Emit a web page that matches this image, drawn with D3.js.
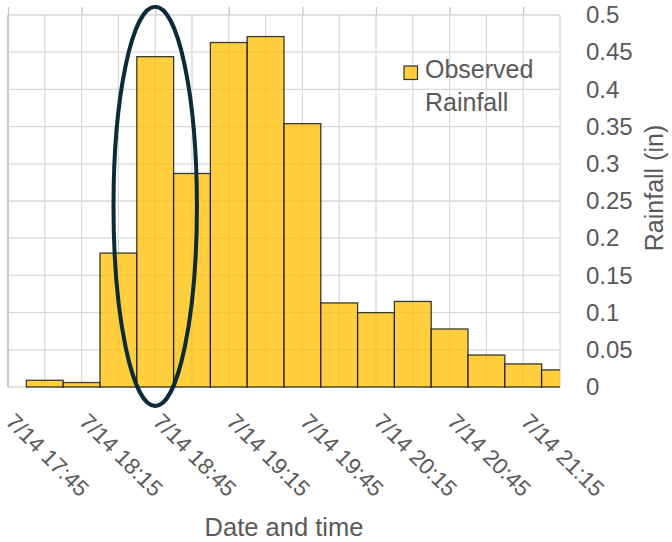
<!DOCTYPE html>
<html>
<head>
<meta charset="utf-8">
<script src="https://cdn.jsdelivr.net/npm/d3@7"></script>
<style>
  body { margin: 0; background: #fff; }
  svg text { font-family: "Liberation Sans", Arial, sans-serif; fill: #595959; }
</style>
</head>
<body>
<div id="chart"></div>
<script>
// 15 minute bins, 7/14
const binTimes = ['7/14 18:00', '7/14 18:15', '7/14 18:30', '7/14 18:45', '7/14 19:00',
                  '7/14 19:15', '7/14 19:30', '7/14 19:45', '7/14 20:00', '7/14 20:15',
                  '7/14 20:30', '7/14 20:45', '7/14 21:00', '7/14 21:15', '7/14 21:30'];
const rainfall = [0.009, 0.006, 0.18, 0.444, 0.287, 0.463, 0.471, 0.354,
                  0.113, 0.1, 0.115, 0.078, 0.043, 0.031, 0.023];

const xTickLabels = ['7/14 17:45', '7/14 18:15', '7/14 18:45', '7/14 19:15',
                     '7/14 19:45', '7/14 20:15', '7/14 20:45', '7/14 21:15'];
const yTicks = [0, 0.05, 0.1, 0.15, 0.2, 0.25, 0.3, 0.35, 0.4, 0.45, 0.5];

const xDomain = ['7/14 17:45', '7/14 21:30'];
const seriesName = ['Observed', 'Rainfall'];

// circled bars (in data units)
const highlight = { center: '7/14 18:45', halfMinutes: 17, top: 0.511, bottom: -0.0255 };

const width = 672,
      height = 542,
      margin = { top: 15, right: 112, bottom: 155, left: 8 };

const parse = d3.timeParse('%m/%d %H:%M');

const svg = d3.select('#chart')
  .append('svg')
  .attr('width', width)
  .attr('height', height);

const x = d3.scaleTime()
  .domain(xDomain.map(parse))
  .range([margin.left, width - margin.right]);

const y = d3.scaleLinear()
  .domain([0, 0.5])
  .range([height - margin.bottom, margin.top]);

const plotBottom = y(0), plotTop = y(0.5);

// gridlines
const minorTicks = x.ticks(d3.timeMinute.every(15));
svg.append('g')
  .selectAll('line')
  .data(minorTicks)
  .enter().append('line')
  .attr('x1', d => x(d)).attr('x2', d => x(d))
  .attr('y1', plotTop).attr('y2', plotBottom)
  .attr('stroke', '#d9d9d9')
  .attr('stroke-width', 1.3);

svg.append('g')
  .selectAll('line')
  .data(yTicks)
  .enter().append('line')
  .attr('x1', x.range()[0]).attr('x2', x.range()[1])
  .attr('y1', d => y(d)).attr('y2', d => y(d))
  .attr('stroke', '#d9d9d9')
  .attr('stroke-width', 1.3);

// top axis ticks
const topAxis = svg.append('g')
  .attr('transform', 'translate(0,' + plotTop + ')')
  .call(d3.axisTop(x).tickValues(xTickLabels.map(parse)).tickSize(8).tickFormat(''));
topAxis.select('.domain').remove();
topAxis.selectAll('line').attr('stroke', '#c8c8c8').attr('stroke-width', 1.3);

// left axis line
svg.append('line')
  .attr('x1', x.range()[0]).attr('x2', x.range()[0])
  .attr('y1', plotTop).attr('y2', plotBottom)
  .attr('stroke', '#bfbfbf')
  .attr('stroke-width', 1.5);

// bars
svg.append('clipPath')
  .attr('id', 'plotClip')
  .append('rect')
  .attr('x', x.range()[0]).attr('y', 0)
  .attr('width', x.range()[1] - x.range()[0])
  .attr('height', plotBottom + 2);

const bars = binTimes.map((t, i) => ({ t: parse(t), v: rainfall[i] }));
const half = 7.5 * 60 * 1000;

svg.append('g')
  .attr('clip-path', 'url(#plotClip)')
  .selectAll('rect')
  .data(bars)
  .enter().append('rect')
  .attr('x', d => x(new Date(+d.t - half)))
  .attr('y', d => y(d.v))
  .attr('width', d => x(new Date(+d.t + half)) - x(new Date(+d.t - half)))
  .attr('height', d => y(0) - y(d.v))
  .attr('fill', 'rgba(255, 192, 0, 0.76)')
  .attr('stroke', '#1a1a1a')
  .attr('stroke-opacity', 0.85)
  .attr('stroke-width', 1.3);

// y axis on the right
const yAxis = svg.append('g')
  .attr('transform', 'translate(' + x.range()[1] + ',0)')
  .call(d3.axisRight(y).tickValues(yTicks).tickSize(0).tickPadding(26).tickFormat(d3.format('~g')));
yAxis.select('.domain').remove();
yAxis.selectAll('text')
  .style('font-size', '24px')
  .attr('fill', '#595959');

svg.append('text')
  .attr('transform', 'translate(663,188) rotate(-90)')
  .attr('text-anchor', 'middle')
  .style('font-size', '25px')
  .text('Rainfall (in)');

// x axis labels
const xAxis = svg.append('g')
  .attr('transform', 'translate(0,' + plotBottom + ')')
  .call(d3.axisBottom(x).tickValues(xTickLabels.map(parse)).tickSize(0)
    .tickFormat((d, i) => xTickLabels[i]));
xAxis.select('.domain').remove();
xAxis.selectAll('text')
  .attr('y', null)
  .attr('dy', null)
  .attr('text-anchor', 'start')
  .attr('transform', 'translate(-4,36) rotate(45)')
  .style('font-size', '22.5px')
  .attr('fill', '#595959');

svg.append('text')
  .attr('x', 284)
  .attr('y', 536)
  .attr('text-anchor', 'middle')
  .style('font-size', '25.5px')
  .text('Date and time');

// legend
const legend = svg.append('g').attr('transform', 'translate(404,66)');
legend.append('rect')
  .attr('width', 13.5).attr('height', 13.5)
  .attr('fill', 'rgba(255, 192, 0, 0.76)')
  .attr('stroke', '#333')
  .attr('stroke-width', 1.2);
legend.selectAll('text.lg')
  .data(seriesName)
  .enter().append('text')
  .attr('class', 'lg')
  .attr('x', 21)
  .attr('y', (d, i) => 12 + i * 33)
  .style('font-size', '25px')
  .text(d => d);

// ellipse annotation
const hc = parse(highlight.center);
const hm = highlight.halfMinutes * 60 * 1000;
svg.append('ellipse')
  .attr('cx', x(hc))
  .attr('cy', (y(highlight.top) + y(highlight.bottom)) / 2)
  .attr('rx', (x(new Date(+hc + hm)) - x(new Date(+hc - hm))) / 2)
  .attr('ry', (y(highlight.bottom) - y(highlight.top)) / 2)
  .attr('fill', 'none')
  .attr('stroke', '#0c2a3a')
  .attr('stroke-width', 4);
</script>
</body>
</html>
